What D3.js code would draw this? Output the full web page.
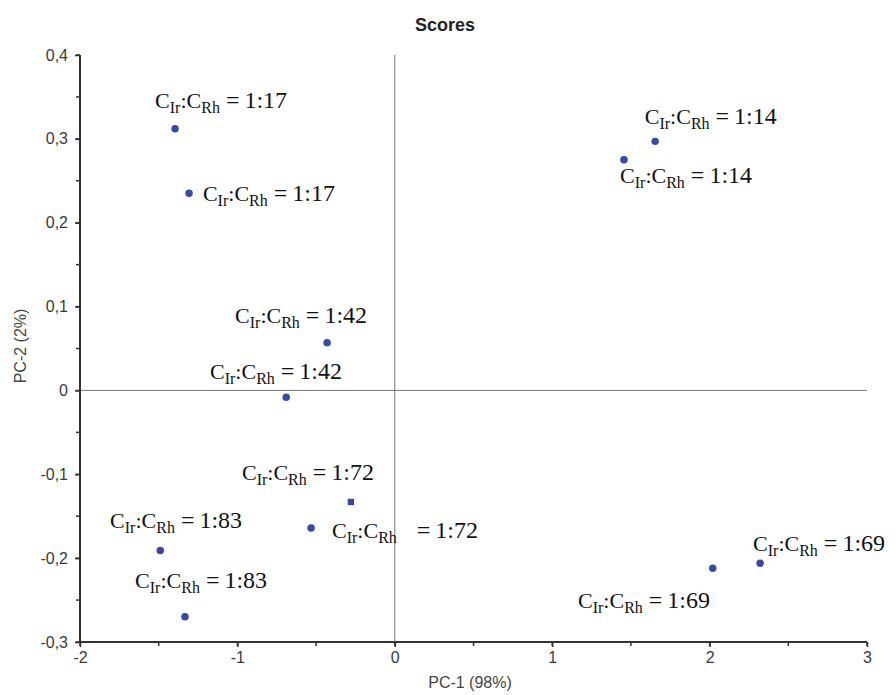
<!DOCTYPE html>
<html>
<head>
<meta charset="utf-8">
<script src="https://cdn.jsdelivr.net/npm/d3@7"></script>
<style>
  body { margin: 0; background: #fff; }
  .lbl { font-family: "Liberation Serif", "Times New Roman", serif; fill: #111; }
</style>
</head>
<body>
<div id="chart"></div>
<script>
// scores
var ratios = ["1:17", "1:17", "1:14", "1:14", "1:42", "1:42", "1:72", "1:72", "1:83", "1:83", "1:69", "1:69"];
var pc1 = [-1.396, -1.307, 1.654, 1.456, -0.43, -0.69, -0.279, -0.532, -1.49, -1.333, 2.321, 2.02];
var pc2 = [0.312, 0.235, 0.297, 0.275, 0.057, -0.008, -0.133, -0.164, -0.191, -0.27, -0.206, -0.212];
var squareMark = [false, false, false, false, false, false, true, false, false, false, false, false];
// where each annotation starts (text start / baseline, in score units)
var labelX = [-1.523, -1.219, 1.588, 1.431, -1.015, -1.174, -0.971, -0.399, -1.809, -1.65, 2.276, 1.164];
var labelY = [0.337, 0.226, 0.318, 0.247, 0.080, 0.014, -0.107, -0.176, -0.164, -0.236, -0.191, -0.260];
var wideGap = [false, false, false, false, false, false, false, true, false, false, false, false];

var xTicks = [-2, -1, 0, 1, 2, 3];
var yTicks = [-0.3, -0.2, -0.1, 0, 0.1, 0.2, 0.3, 0.4];

var width = 896, height = 695;
var mLeft = 80, mRight = 867, mTop = 55, mBottom = 642;

var svg = d3.select("#chart").append("svg")
  .attr("width", width)
  .attr("height", height);

var x = d3.scaleLinear().domain([-2, 3]).range([mLeft, mRight]);
var y = d3.scaleLinear().domain([-0.3, 0.4]).range([mBottom, mTop]);

var fmt = d => Math.abs(d) < 1e-9 ? "0" : d3.format(".1f")(d).replace(".", ",").replace("−", "-");

// zero lines
svg.append("line")
  .attr("x1", x(0)).attr("x2", x(0))
  .attr("y1", y(0.4)).attr("y2", y(-0.3))
  .attr("stroke", "#777").attr("stroke-width", 1);
svg.append("line")
  .attr("x1", x(-2)).attr("x2", x(3))
  .attr("y1", y(0)).attr("y2", y(0))
  .attr("stroke", "#777").attr("stroke-width", 1);

// minor ticks
var xMinor = d3.range(-2, 3.01, 0.5);
var yMinor = d3.range(-0.3, 0.401, 0.05);

var xAxis = svg.append("g")
  .attr("transform", `translate(0, ${mBottom})`)
  .call(d3.axisBottom(x).tickValues(xTicks).tickFormat(d => String(d)).tickSize(5).tickPadding(5));
xAxis.append("g").selectAll("line").data(xMinor).enter().append("line")
  .attr("x1", d => x(d)).attr("x2", d => x(d)).attr("y1", 0).attr("y2", 4)
  .attr("stroke", "#333").attr("stroke-width", 1.5);

var yAxis = svg.append("g")
  .attr("transform", `translate(${mLeft}, 0)`)
  .call(d3.axisLeft(y).tickValues(yTicks).tickFormat(fmt).tickSize(5).tickPadding(7));
yAxis.append("g").selectAll("line").data(yMinor).enter().append("line")
  .attr("x1", 0).attr("x2", -4).attr("y1", d => y(d)).attr("y2", d => y(d))
  .attr("stroke", "#333").attr("stroke-width", 1.5);

[xAxis, yAxis].forEach(function(ax) {
  ax.attr("font-family", "Arial, 'Liberation Sans', sans-serif").attr("font-size", 16);
  ax.selectAll("text").attr("fill", "#3a3a3a");
  ax.selectAll(".domain").attr("stroke", "#333").attr("stroke-width", 2);
  ax.selectAll(".tick line").attr("stroke", "#333").attr("stroke-width", 1.5);
});
xAxis.selectAll(".domain").attr("d", `M${mLeft},0H${mRight}`);
yAxis.selectAll(".domain").attr("d", `M0,${mTop}V${mBottom}`);

// titles
svg.append("text")
  .attr("x", 445).attr("y", 31)
  .attr("text-anchor", "middle")
  .attr("font-family", "Arial, 'Liberation Sans', sans-serif")
  .attr("font-size", 18).attr("font-weight", "bold").attr("fill", "#222")
  .text("Scores");

svg.append("text")
  .attr("x", 470).attr("y", 688)
  .attr("text-anchor", "middle")
  .attr("font-family", "Arial, 'Liberation Sans', sans-serif")
  .attr("font-size", 16).attr("fill", "#444")
  .text("PC-1 (98%)");

svg.append("text")
  .attr("transform", `translate(26, 346) rotate(-90)`)
  .attr("text-anchor", "middle")
  .attr("font-family", "Arial, 'Liberation Sans', sans-serif")
  .attr("font-size", 16).attr("fill", "#444")
  .text("PC-2 (2%)");

// points
var pts = ratios.map((r, i) => ({ r: r, x: pc1[i], y: pc2[i], sq: squareMark[i], lx: labelX[i], ly: labelY[i], gap: wideGap[i] }));

svg.append("g").selectAll("path").data(pts).enter().append("path")
  .attr("transform", d => `translate(${x(d.x)}, ${y(d.y)})`)
  .attr("d", d => d3.symbol().type(d.sq ? d3.symbolSquare : d3.symbolCircle).size(d.sq ? 40 : 44)())
  .attr("fill", "#3a48a4");

// annotations
var lbl = svg.append("g").selectAll("text").data(pts).enter().append("text")
  .attr("class", "lbl")
  .attr("x", d => x(d.lx)).attr("y", d => y(d.ly))
  .style("font-size", "22px");
lbl.append("tspan").text("C");
lbl.append("tspan").attr("dy", 5).style("font-size", "16px").text("Ir");
lbl.append("tspan").attr("dy", -5).text(":C");
lbl.append("tspan").attr("dy", 5).style("font-size", "16px").text("Rh");
lbl.append("tspan").attr("dy", -5).attr("dx", d => d.gap ? 20 : 6).style("font-size", "24px").text("=");
lbl.append("tspan").attr("dx", 5).style("font-size", "24px").text(d => d.r);
</script>
</body>
</html>
